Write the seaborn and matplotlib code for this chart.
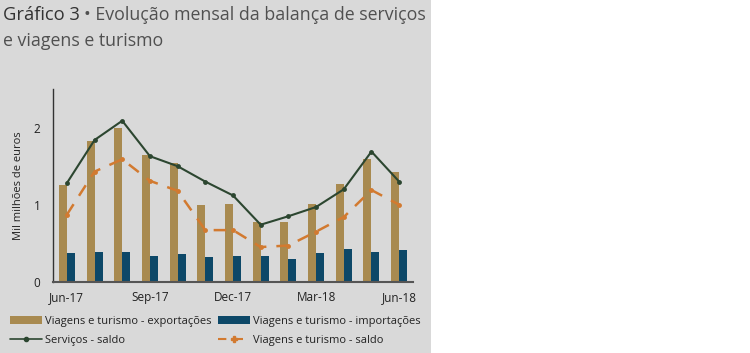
import numpy as np
import pandas as pd
import matplotlib
matplotlib.use("Agg")
import matplotlib.pyplot as plt
import seaborn as sns
from matplotlib.patches import Rectangle, Patch
from matplotlib.lines import Line2D

months = ["Jun-17", "Jul-17", "Aug-17", "Sep-17", "Oct-17", "Nov-17", "Dec-17",
          "Jan-18", "Feb-18", "Mar-18", "Apr-18", "May-18", "Jun-18"]
vt_exports = [1.26, 1.83, 2.00, 1.65, 1.54, 1.00, 1.01, 0.77, 0.77, 1.01, 1.27, 1.59, 1.42]
vt_imports = [0.37, 0.39, 0.39, 0.34, 0.36, 0.32, 0.34, 0.33, 0.30, 0.37, 0.42, 0.39, 0.41]
serv_saldo = [1.28, 1.84, 2.09, 1.63, 1.50, 1.30, 1.12, 0.74, 0.85, 0.97, 1.20, 1.69, 1.30]
vt_saldo = [0.87, 1.43, 1.59, 1.31, 1.18, 0.67, 0.67, 0.45, 0.47, 0.65, 0.84, 1.19, 1.00]
tick_labels = ["Jun-17", "Sep-17", "Dec-17", "Mar-18", "Jun-18"]
tick_idx = [0, 3, 6, 9, 12]

lab_exp = "Viagens e turismo - exportações"
lab_imp = "Viagens e turismo - importações"
lab_serv = "Serviços - saldo"
lab_vts = "Viagens e turismo - saldo"

c_exp = "#A88A50"
c_imp = "#0D4868"
c_serv = "#2C4630"
c_vts = "#D27A30"
bg = "#D9D9D9"

sns.set_theme(style="white")
plt.rcParams["font.family"] = ["Open Sans", "DejaVu Sans"]

fig = plt.figure(figsize=(7.5, 3.53), dpi=100, facecolor="white")
fig.patches.append(Rectangle((0, 0), 431 / 750, 1, transform=fig.transFigure,
                             facecolor=bg, edgecolor="none", zorder=-10))

ax = fig.add_axes([53 / 750, 1 - 281.7 / 353, 360 / 750, (281.7 - 89.2) / 353])
ax.set_facecolor("none")

bars = pd.DataFrame({
    "month": months * 2,
    "value": vt_exports + vt_imports,
    "serie": [lab_exp] * len(months) + [lab_imp] * len(months),
})
sns.barplot(data=bars, x="month", y="value", hue="serie", order=months,
            hue_order=[lab_exp, lab_imp], palette=[c_exp, c_imp],
            width=0.58, saturation=1, ax=ax, legend=False,
            edgecolor="none", linewidth=0)

xpos = np.arange(len(months))
sns.lineplot(x=xpos, y=serv_saldo, color=c_serv, lw=1.5, marker="o", markersize=3.5,
             markeredgewidth=0, ax=ax, zorder=5)
sns.lineplot(x=xpos, y=vt_saldo, color=c_vts, lw=1.8, marker="o", markersize=3.5,
             markeredgewidth=0, ax=ax, zorder=4)
ax.lines[-1].set_dashes([5, 4])

ax.set_xlim(-0.5, len(months) - 0.5)
ax.set_ylim(0, 2.5)
ax.set_yticks([0, 1, 2])
ax.set_yticklabels(["0", "1", "2"])
ax.set_xticks(tick_idx)
ax.set_xticklabels(tick_labels)
ax.tick_params(axis="both", length=0, labelsize=8.5, colors="#222222", pad=7)
ax.tick_params(axis="y", pad=9)
ax.set_xlabel("")
ax.set_ylabel("Mil milhões de euros", fontsize=8, color="#222222", labelpad=7)
for s in ["top", "right"]:
    ax.spines[s].set_visible(False)
ax.spines["left"].set_color("#333333")
ax.spines["bottom"].set_color("#555555")
ax.spines["left"].set_linewidth(1)
ax.spines["bottom"].set_linewidth(1.5)

# title
t1 = fig.text(3 / 750, 1 - 20 / 353, "Gráfico 3", fontsize=13.2, color="#333333",
              ha="left", va="baseline")
fig.canvas.draw()
r = fig.canvas.get_renderer()
bb = t1.get_window_extent(r)
fig.text(bb.x1 / 750 + 0.005, 1 - 20 / 353, "• Evolução mensal da balança de serviços",
         fontsize=12.8, color="#505050", ha="left", va="baseline")
fig.text(3 / 750, 1 - 46 / 353, "e viagens e turismo", fontsize=12.8, color="#505050",
         ha="left", va="baseline")

handles = [
    Patch(facecolor=c_exp, edgecolor="none"),
    Line2D([], [], color=c_serv, lw=1.2, marker="o", markersize=3),
    Patch(facecolor=c_imp, edgecolor="none"),
    Line2D([], [], color=c_vts, lw=1.5, marker="P", markersize=4, dashes=[4, 4]),
]
labels = [lab_exp, lab_serv, lab_imp, lab_vts]
leg = fig.legend(handles, labels, ncol=2, loc="upper left",
                 bbox_to_anchor=(10 / 750, 1 - 316 / 353), frameon=False,
                 fontsize=8.05, handlelength=2.85, handletextpad=0.26,
                 columnspacing=0.6, labelspacing=0.72, borderaxespad=0,
                 borderpad=0)
for t in leg.get_texts():
    t.set_color("#222222")

fig.savefig("out.png", dpi=100, facecolor="white")
